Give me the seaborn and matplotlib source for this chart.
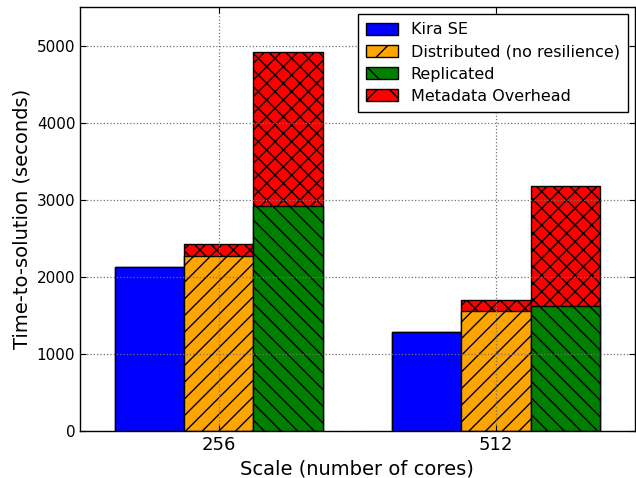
import matplotlib
matplotlib.use("Agg")
import matplotlib.pyplot as plt
import numpy as np
import pandas as pd
import seaborn as sns
from matplotlib.patches import Patch

scales = ["256", "512"]
systems = ["Kira SE", "Distributed (no resilience)", "Replicated"]
kira_se = [2125, 1290]
distributed = [2275, 1560]
replicated = [2925, 1620]
# metadata overhead stacked on top of the distributed / replicated bars
distributed_meta = [155, 135]
replicated_meta = [1990, 1555]

colors = {"Kira SE": "blue", "Distributed (no resilience)": "orange", "Replicated": "green"}
hatches = {"Kira SE": "", "Distributed (no resilience)": "//", "Replicated": "\\\\"}
meta_hatch = "xx"

base = {"Kira SE": kira_se, "Distributed (no resilience)": distributed, "Replicated": replicated}
meta = {"Kira SE": [0, 0], "Distributed (no resilience)": distributed_meta, "Replicated": replicated_meta}

rows = []
for s in systems:
    for i, sc in enumerate(scales):
        rows.append({"scale": sc, "system": s, "base": base[s][i],
                     "total": base[s][i] + meta[s][i]})
df = pd.DataFrame(rows)

sns.set_style("ticks", rc={
    "xtick.direction": "in", "ytick.direction": "in",
    "xtick.top": True, "ytick.right": True,
    "axes.edgecolor": "black", "text.color": "black",
    "axes.labelcolor": "black", "xtick.color": "black", "ytick.color": "black",
    "hatch.linewidth": 1.0,
})
plt.rcParams["font.family"] = ["DejaVu Sans"]

fig, ax = plt.subplots(figsize=(6.36, 4.78), dpi=100)
fig.subplots_adjust(left=0.126, right=0.998, top=0.985, bottom=0.098)

# totals first (metadata overhead in red), then the base bars drawn over them
sns.barplot(data=df, x="scale", y="total", hue="system", hue_order=systems,
            palette=["red"] * 3, width=0.75, edgecolor="black", linewidth=1,
            legend=False, ax=ax, saturation=1, errorbar=None)
for cont in ax.containers:
    for p in cont:
        p.set_hatch(meta_hatch)
n_meta = len(ax.containers)

sns.barplot(data=df, x="scale", y="base", hue="system", hue_order=systems,
            palette=colors, width=0.75, edgecolor="black", linewidth=1,
            legend=False, ax=ax, saturation=1, errorbar=None)
for cont, s in zip(ax.containers[n_meta:], systems):
    for p in cont:
        p.set_hatch(hatches[s])

ax.set_xlim(-0.5, 1.5)
ax.set_ylim(0, 5500)
ax.set_yticks(np.arange(0, 5001, 1000))
ax.set_axisbelow(False)
ax.grid(True, linestyle=":", color="0.45", linewidth=0.9)
for sp in ax.spines.values():
    sp.set_visible(True)
    sp.set_linewidth(1)
ax.tick_params(axis="x", labelsize=13, length=4)
ax.tick_params(axis="y", labelsize=11, length=4)
ax.set_xlabel("Scale (number of cores)", fontsize=14)
ax.set_ylabel("Time-to-solution (seconds)", fontsize=14)

handles = [
    Patch(facecolor="blue", edgecolor="black", label="Kira SE"),
    Patch(facecolor="orange", edgecolor="black", hatch="/", label="Distributed (no resilience)"),
    Patch(facecolor="green", edgecolor="black", hatch="\\", label="Replicated"),
    Patch(facecolor="red", edgecolor="black", hatch="x", label="Metadata Overhead"),
]
leg = ax.legend(handles=handles, loc="upper right", fontsize=11.5, frameon=True,
                fancybox=False, edgecolor="black", framealpha=1,
                borderaxespad=0.45, handlelength=2.0, handleheight=0.8,
                labelspacing=0.45, borderpad=0.5)
leg.get_frame().set_linewidth(1)

fig.savefig("out.png", dpi=100)
